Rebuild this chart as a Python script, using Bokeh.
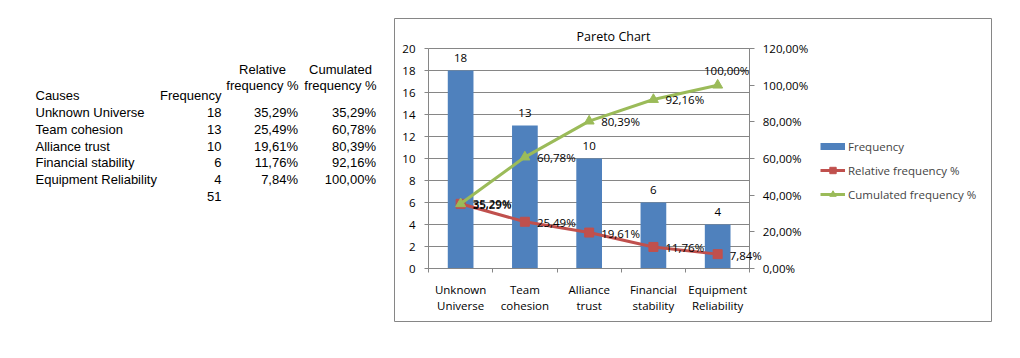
from bokeh.plotting import figure
from bokeh.models import (Range1d, LinearAxis, FixedTicker, ColumnDataSource, LabelSet, Label,
                          Legend, LegendItem)
from bokeh.embed import file_html
from bokeh.resources import INLINE
from bokeh.core.properties import value

# ---------------- data ----------------
causes = ["Unknown Universe", "Team cohesion", "Alliance trust", "Financial stability", "Equipment Reliability"]
axis_labels = ["Unknown\nUniverse", "Team\ncohesion", "Alliance\ntrust", "Financial\nstability", "Equipment\nReliability"]
frequency = [18, 13, 10, 6, 4]
relative_pct = [35.29, 25.49, 19.61, 11.76, 7.84]
cumulated_pct = [35.29, 60.78, 80.39, 92.16, 100.00]
total = 51
left_ticks = [0, 2, 4, 6, 8, 10, 12, 14, 16, 18, 20]
right_ticks = [0, 20, 40, 60, 80, 100, 120]

def pct(v):
    return f"{v:.2f}".replace(".", ",") + "%"

n = len(causes)
centers = [i + 0.5 for i in range(n)]   # category slot centres
bounds = list(range(n + 1))             # slot boundaries (tick marks)

# ---------------- layout (page pixels) ----------------
W, H = 1020, 358
PL, PR, PT, PB = 428, 749.3, 48, 268      # plot area
GRAY = "#868686"
BLUE, RED, GREEN = "#4F81BD", "#C0504D", "#9BBB59"
CF = "Open Sans"
CS = "11.5px"
TF = "Liberation Sans"
TS = "13px"

def span_range(lo, hi, a_px, b_px, size):
    """Range whose values lo..hi land on pixels a_px..b_px of an axis of `size` pixels."""
    k = (hi - lo) / (b_px - a_px)
    return Range1d(lo - a_px * k, lo + (size - a_px) * k)

p = figure(width=W, height=H, x_range=Range1d(0, W), y_range=Range1d(H, 0),
           output_backend="svg", toolbar_location=None, x_axis_location=None, y_axis_location=None,
           min_border=0)
p.outline_line_color = None
p.grid.visible = False
p.extra_x_ranges = {"cat": span_range(0, n, PL, PR, W)}
p.extra_y_ranges = {"freq": span_range(0, 20, H - PB, H - PT, H),
                    "pct": span_range(0, 120, H - PB, H - PT, H)}

def style_axis(ax):
    ax.axis_line_color = GRAY
    ax.major_tick_line_color = GRAY
    ax.minor_tick_line_color = None
    ax.major_label_text_font = CF
    ax.major_label_text_font_size = CS
    ax.major_label_text_color = "black"

# chart box and title
p.quad(left=[394], right=[991], top=[18], bottom=[321], fill_color=None, line_color=GRAY, line_width=1)
p.text(x=[613], y=[36], text=["Pareto Chart"], text_align="center", text_baseline="middle",
       text_font=value(CF), text_font_size="12.5px", text_color="black")

# gridlines at the left-axis ticks
p.segment(x0=[0] * len(left_ticks), x1=[n] * len(left_ticks), y0=left_ticks, y1=left_ticks,
          x_range_name="cat", y_range_name="freq", line_color=GRAY, line_width=1)

left = LinearAxis(y_range_name="freq", fixed_location=PL, bounds=(0, 20),
                  ticker=FixedTicker(ticks=left_ticks))
style_axis(left)
left.major_tick_out = 4
left.major_tick_in = 0
left.major_label_standoff = 9
p.add_layout(left, "left")

right = LinearAxis(y_range_name="pct", fixed_location=PR, bounds=(0, 120),
                   ticker=FixedTicker(ticks=right_ticks),
                   major_label_overrides={v: pct(v) for v in right_ticks})
style_axis(right)
right.major_tick_out = 5
right.major_tick_in = 0
right.major_label_standoff = 8
p.add_layout(right, "right")

cat = LinearAxis(x_range_name="cat", fixed_location=PB, bounds=(0, n),
                 ticker=FixedTicker(ticks=centers, minor_ticks=bounds),
                 major_label_overrides=dict(zip(centers, axis_labels)))
style_axis(cat)
cat.major_tick_line_color = None
cat.major_tick_out = 0
cat.major_tick_in = 0
cat.minor_tick_line_color = GRAY
cat.minor_tick_out = 4
cat.minor_tick_in = 0
cat.major_label_standoff = 9
cat.major_label_text_line_height = 1.1
p.add_layout(cat, "below")

src = ColumnDataSource(dict(x=centers, freq=frequency, rel=relative_pct, cum=cumulated_pct,
                            freq_text=[str(v) for v in frequency],
                            rel_text=[pct(v) for v in relative_pct]))
cum_src = ColumnDataSource(dict(x=centers[:-1], cum=cumulated_pct[:-1],
                                cum_text=[pct(v) for v in cumulated_pct[:-1]]))

p.vbar(x="x", top="freq", bottom=0, width=0.4, source=src, x_range_name="cat", y_range_name="freq",
       fill_color=BLUE, line_color=None)
rl = p.line(x="x", y="rel", source=src, x_range_name="cat", y_range_name="pct",
            line_color=RED, line_width=3)
rm = p.scatter(x="x", y="rel", source=src, x_range_name="cat", y_range_name="pct",
               marker="square", size=9, fill_color=RED, line_color=RED)
gl = p.line(x="x", y="cum", source=src, x_range_name="cat", y_range_name="pct",
            line_color=GREEN, line_width=3)
gm = p.scatter(x="x", y="cum", source=src, x_range_name="cat", y_range_name="pct",
               marker="triangle", size=10, fill_color=GREEN, line_color=GREEN)
# zero-length stroke: only used as the legend swatch of the bar series
bar_key = p.line(x=[0, 0], y=[0, 0], x_range_name="cat", y_range_name="freq",
                 line_color=BLUE, line_width=7, line_cap="butt")

lbl = dict(text_font=value(CF), text_font_size=CS, text_color="black")
p.add_layout(LabelSet(x="x", y="freq", text="freq_text", source=src, x_range_name="cat",
                      y_range_name="freq", text_align="center", text_baseline="middle",
                      y_offset=13, **lbl))
p.add_layout(LabelSet(x="x", y="rel", text="rel_text", source=src, x_range_name="cat",
                      y_range_name="pct", text_align="left", text_baseline="middle",
                      x_offset=12, y_offset=-1, **lbl))
p.add_layout(LabelSet(x="x", y="cum", text="cum_text", source=cum_src, x_range_name="cat",
                      y_range_name="pct", text_align="left", text_baseline="middle",
                      x_offset=12, y_offset=0, **lbl))
p.add_layout(Label(x=centers[-1], y=cumulated_pct[-1], text=pct(cumulated_pct[-1]),
                   x_range_name="cat", y_range_name="pct", text_align="center",
                   text_baseline="middle", x_offset=9, y_offset=15,
                   text_font=CF, text_font_size=CS, text_color="black"))

legend = Legend(items=[LegendItem(label="Frequency", renderers=[bar_key]),
                       LegendItem(label="Relative frequency %", renderers=[rl, rm]),
                       LegendItem(label="Cumulated frequency %", renderers=[gl, gm])],
                location=(820, H - 202), padding=0, margin=0, spacing=8,
                glyph_width=25, glyph_height=16, label_height=16, label_standoff=3,
                label_text_font=CF, label_text_font_size=CS,
                border_line_color=None, background_fill_alpha=0)
p.add_layout(legend, "center")

# ---------------- table ----------------
COL_CAUSE, COL_FREQ, COL_REL, COL_CUM = 35, 221, 297.5, 375.5
HDR_REL, HDR_CUM = 262, 340
HDR1, HDR2, HDR_MAIN = 68.5, 85, 94.5
ROW0, PITCH = 111.7, 16.9
row_y = [ROW0 + i * PITCH for i in range(n)]

def ttext(xs, ys, texts, align):
    p.text(x=xs, y=ys, text=texts, text_align=align, text_baseline="middle",
           text_font=value(TF), text_font_size=TS, text_color="black")

ttext([COL_CAUSE], [HDR_MAIN], ["Causes"], "left")
ttext([COL_FREQ], [HDR_MAIN + 0.7], ["Frequency"], "right")
ttext([HDR_REL, HDR_REL, HDR_CUM, HDR_CUM], [HDR1, HDR2, HDR1, HDR2],
      ["Relative", "frequency %", "Cumulated", "frequency %"], "center")
ttext([COL_CAUSE] * n, row_y, causes, "left")
ttext([COL_FREQ] * n, row_y, [str(v) for v in frequency], "right")
ttext([COL_REL] * n, row_y, [pct(v) for v in relative_pct], "right")
ttext([COL_CUM] * n, row_y, [pct(v) for v in cumulated_pct], "right")
ttext([COL_FREQ], [ROW0 + n * PITCH], [str(total)], "right")

open("out.html", "w").write(file_html(p, INLINE))
